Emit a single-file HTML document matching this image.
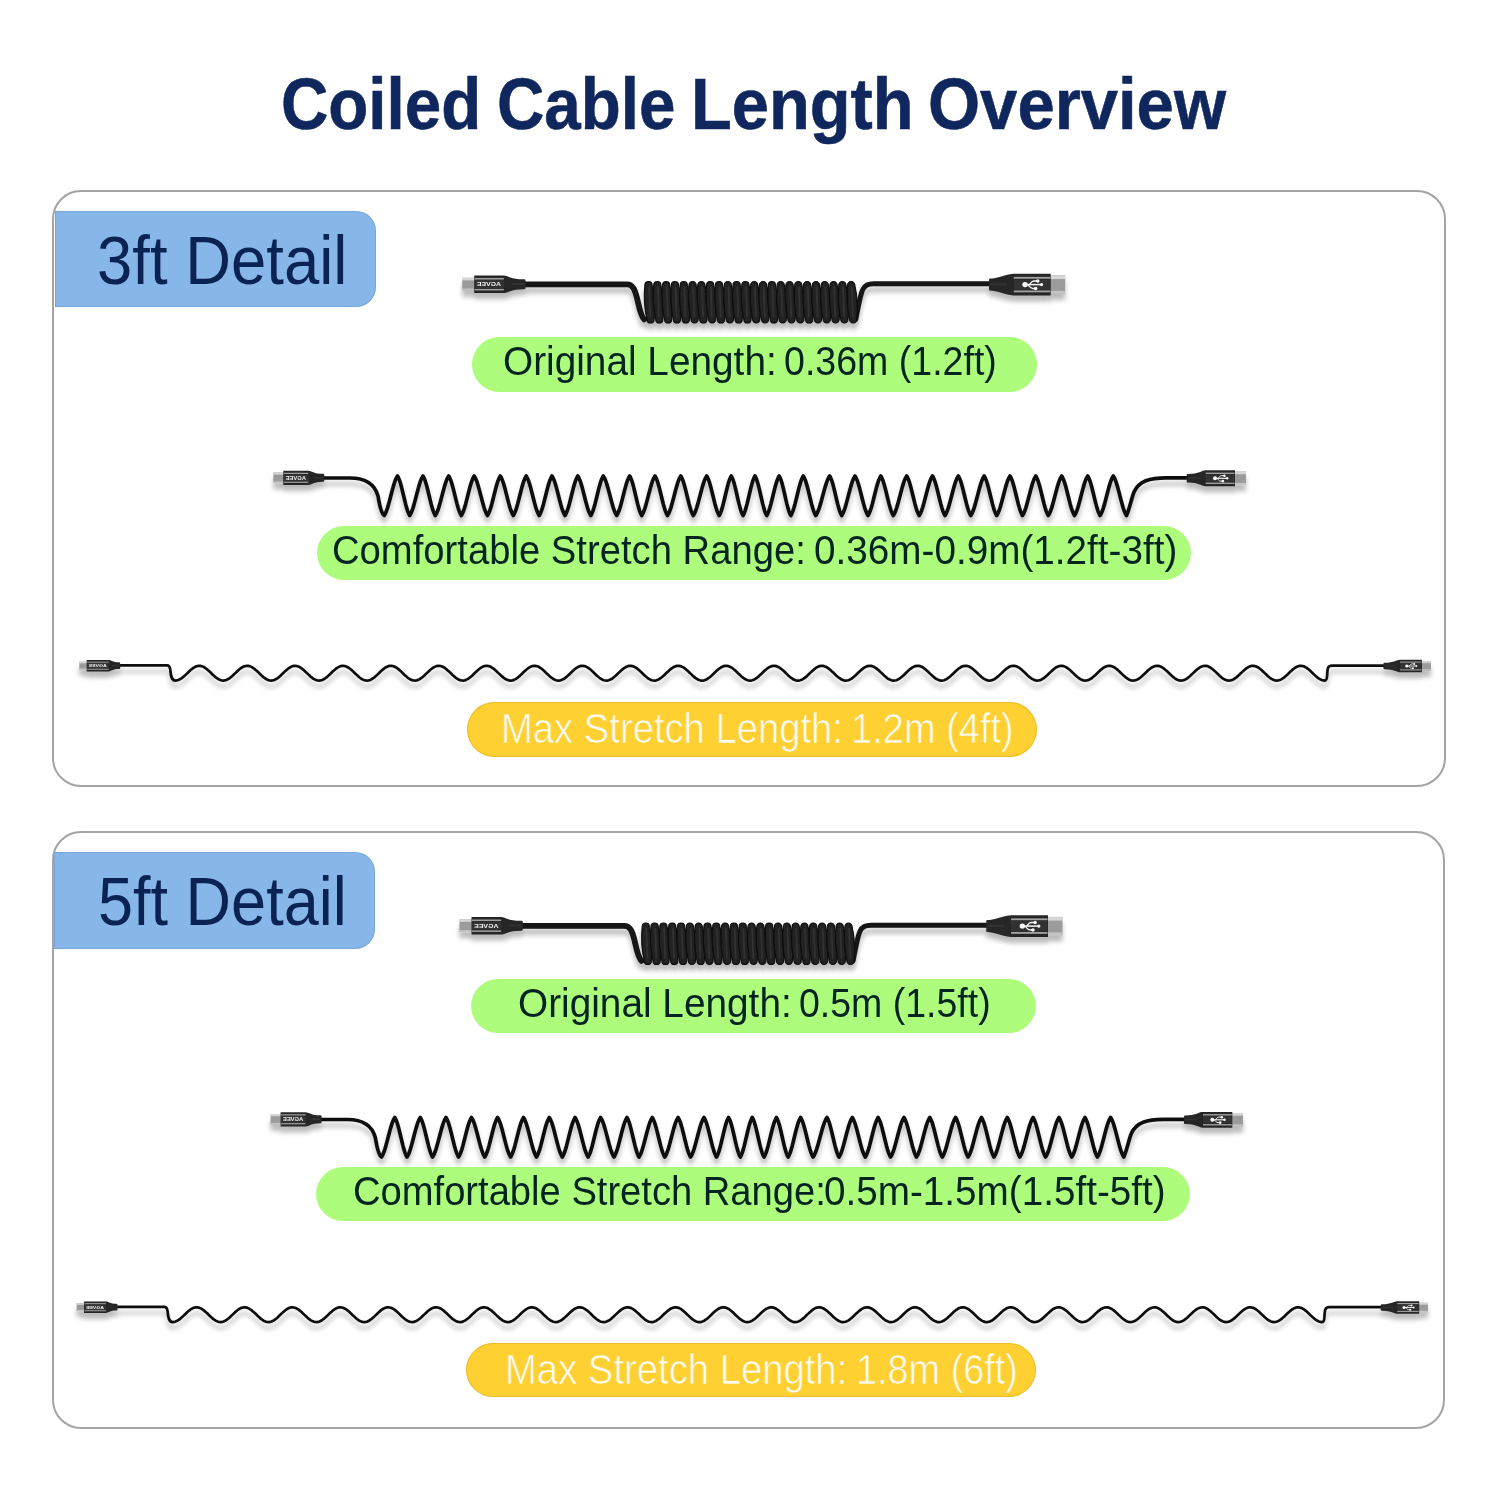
<!DOCTYPE html>
<html><head><meta charset="utf-8"><title>Coiled Cable Length Overview</title><style>
html,body{margin:0;padding:0;background:#fff;}
body{width:1500px;height:1500px;position:relative;overflow:hidden;}
.t{position:absolute;white-space:nowrap;line-height:1;font-family:"Liberation Sans",sans-serif;transform-origin:0 0;}
</style></head><body>
<div style="position:absolute;left:52px;top:189.5px;width:1393.5px;height:597.5px;box-sizing:border-box;border:2.6px solid #a4a4a4;border-radius:29px;"></div>
<div style="position:absolute;left:51.5px;top:831px;width:1393.0px;height:597.5px;box-sizing:border-box;border:2.6px solid #a4a4a4;border-radius:29px;"></div>
<div style="position:absolute;left:54.5px;top:210.8px;width:321.1px;height:96.4px;background:#87b7e8;border-radius:0 20px 20px 0;box-shadow:inset 0 0 0 1px rgba(90,130,180,0.3);"></div>
<div style="position:absolute;left:54px;top:852px;width:320.7px;height:96.5px;background:#87b7e8;border-radius:0 20px 20px 0;box-shadow:inset 0 0 0 1px rgba(90,130,180,0.3);"></div>
<div style="position:absolute;left:472px;top:337px;width:564.5px;height:54.5px;background:#adfc7c;border-radius:28px;"></div>
<div style="position:absolute;left:317px;top:526px;width:874px;height:54px;background:#adfc7c;border-radius:28px;"></div>
<div style="position:absolute;left:466.7px;top:701.7px;width:570.3px;height:55.0px;background:#fed032;border-radius:28px;box-shadow:inset 0 0 0 1px rgba(215,165,30,0.45);"></div>
<div style="position:absolute;left:471px;top:978.5px;width:564.5px;height:54.5px;background:#adfc7c;border-radius:28px;"></div>
<div style="position:absolute;left:316px;top:1167px;width:874px;height:54px;background:#adfc7c;border-radius:28px;"></div>
<div style="position:absolute;left:465.7px;top:1343px;width:570.3px;height:54.3px;background:#fed032;border-radius:28px;box-shadow:inset 0 0 0 1px rgba(215,165,30,0.45);"></div>
<svg width="1500" height="1500" viewBox="0 0 1500 1500" style="position:absolute;left:0;top:0">
<defs>
<filter id="sh" x="-5%" y="-50%" width="110%" height="250%">
<feGaussianBlur in="SourceAlpha" stdDeviation="2.4"/>
<feOffset dx="0" dy="6" result="b"/>
<feComponentTransfer><feFuncA type="linear" slope="0.27"/></feComponentTransfer>
<feMerge><feMergeNode/><feMergeNode in="SourceGraphic"/></feMerge>
</filter>
</defs>
<g id="pc1" filter="url(#sh)">
<path d="M524 284.4 H627 C633 284.4 635 290 637 298 C639 306 640.5 316 644.2 319.4" fill="none" stroke="#161616" stroke-width="5.8" stroke-linecap="round" stroke-linejoin="round"/>
<path d="M855.8 319.4 C858 308 860 296 862.5 290 C865 285 868 283.8 874 283.8 H990" fill="none" stroke="#161616" stroke-width="5" stroke-linecap="round" stroke-linejoin="round"/>
<g fill="#212121" stroke="#080808" stroke-width="1.1"><path d="M644.9 285.1 A3.6 3.6 0 0 1 652.1 285.1 Q655.9 302.25 654.1 319.4 A3.6 3.6 0 0 1 646.9 319.4 Q643.1 302.25 644.9 285.1 Z"/><path d="M653.71 285.1 A3.6 3.6 0 0 1 660.91 285.1 Q664.71 302.25 662.91 319.4 A3.6 3.6 0 0 1 655.71 319.4 Q651.91 302.25 653.71 285.1 Z"/><path d="M662.53 285.1 A3.6 3.6 0 0 1 669.73 285.1 Q673.53 302.25 671.73 319.4 A3.6 3.6 0 0 1 664.53 319.4 Q660.73 302.25 662.53 285.1 Z"/><path d="M671.34 285.1 A3.6 3.6 0 0 1 678.54 285.1 Q682.34 302.25 680.54 319.4 A3.6 3.6 0 0 1 673.34 319.4 Q669.54 302.25 671.34 285.1 Z"/><path d="M680.15 285.1 A3.6 3.6 0 0 1 687.35 285.1 Q691.15 302.25 689.35 319.4 A3.6 3.6 0 0 1 682.15 319.4 Q678.35 302.25 680.15 285.1 Z"/><path d="M688.97 285.1 A3.6 3.6 0 0 1 696.17 285.1 Q699.97 302.25 698.17 319.4 A3.6 3.6 0 0 1 690.97 319.4 Q687.17 302.25 688.97 285.1 Z"/><path d="M697.78 285.1 A3.6 3.6 0 0 1 704.98 285.1 Q708.78 302.25 706.98 319.4 A3.6 3.6 0 0 1 699.78 319.4 Q695.98 302.25 697.78 285.1 Z"/><path d="M706.59 285.1 A3.6 3.6 0 0 1 713.79 285.1 Q717.59 302.25 715.79 319.4 A3.6 3.6 0 0 1 708.59 319.4 Q704.79 302.25 706.59 285.1 Z"/><path d="M715.4 285.1 A3.6 3.6 0 0 1 722.6 285.1 Q726.4 302.25 724.6 319.4 A3.6 3.6 0 0 1 717.4 319.4 Q713.6 302.25 715.4 285.1 Z"/><path d="M724.22 285.1 A3.6 3.6 0 0 1 731.42 285.1 Q735.22 302.25 733.42 319.4 A3.6 3.6 0 0 1 726.22 319.4 Q722.42 302.25 724.22 285.1 Z"/><path d="M733.03 285.1 A3.6 3.6 0 0 1 740.23 285.1 Q744.03 302.25 742.23 319.4 A3.6 3.6 0 0 1 735.03 319.4 Q731.23 302.25 733.03 285.1 Z"/><path d="M741.84 285.1 A3.6 3.6 0 0 1 749.04 285.1 Q752.84 302.25 751.04 319.4 A3.6 3.6 0 0 1 743.84 319.4 Q740.04 302.25 741.84 285.1 Z"/><path d="M750.66 285.1 A3.6 3.6 0 0 1 757.86 285.1 Q761.66 302.25 759.86 319.4 A3.6 3.6 0 0 1 752.66 319.4 Q748.86 302.25 750.66 285.1 Z"/><path d="M759.47 285.1 A3.6 3.6 0 0 1 766.67 285.1 Q770.47 302.25 768.67 319.4 A3.6 3.6 0 0 1 761.47 319.4 Q757.67 302.25 759.47 285.1 Z"/><path d="M768.28 285.1 A3.6 3.6 0 0 1 775.48 285.1 Q779.28 302.25 777.48 319.4 A3.6 3.6 0 0 1 770.28 319.4 Q766.48 302.25 768.28 285.1 Z"/><path d="M777.1 285.1 A3.6 3.6 0 0 1 784.3 285.1 Q788.1 302.25 786.3 319.4 A3.6 3.6 0 0 1 779.1 319.4 Q775.3 302.25 777.1 285.1 Z"/><path d="M785.91 285.1 A3.6 3.6 0 0 1 793.11 285.1 Q796.91 302.25 795.11 319.4 A3.6 3.6 0 0 1 787.91 319.4 Q784.11 302.25 785.91 285.1 Z"/><path d="M794.72 285.1 A3.6 3.6 0 0 1 801.92 285.1 Q805.72 302.25 803.92 319.4 A3.6 3.6 0 0 1 796.72 319.4 Q792.92 302.25 794.72 285.1 Z"/><path d="M803.53 285.1 A3.6 3.6 0 0 1 810.73 285.1 Q814.53 302.25 812.73 319.4 A3.6 3.6 0 0 1 805.53 319.4 Q801.73 302.25 803.53 285.1 Z"/><path d="M812.35 285.1 A3.6 3.6 0 0 1 819.55 285.1 Q823.35 302.25 821.55 319.4 A3.6 3.6 0 0 1 814.35 319.4 Q810.55 302.25 812.35 285.1 Z"/><path d="M821.16 285.1 A3.6 3.6 0 0 1 828.36 285.1 Q832.16 302.25 830.36 319.4 A3.6 3.6 0 0 1 823.16 319.4 Q819.36 302.25 821.16 285.1 Z"/><path d="M829.97 285.1 A3.6 3.6 0 0 1 837.17 285.1 Q840.97 302.25 839.17 319.4 A3.6 3.6 0 0 1 831.97 319.4 Q828.17 302.25 829.97 285.1 Z"/><path d="M838.79 285.1 A3.6 3.6 0 0 1 845.99 285.1 Q849.79 302.25 847.99 319.4 A3.6 3.6 0 0 1 840.79 319.4 Q836.99 302.25 838.79 285.1 Z"/><path d="M847.6 285.1 A3.6 3.6 0 0 1 854.8 285.1 Q858.6 302.25 856.8 319.4 A3.6 3.6 0 0 1 849.6 319.4 Q845.8 302.25 847.6 285.1 Z"/></g>
<path d="M649.1 287.1 L650.2 316.4 M657.91 287.1 L659.01 316.4 M666.73 287.1 L667.83 316.4 M675.54 287.1 L676.64 316.4 M684.35 287.1 L685.45 316.4 M693.17 287.1 L694.27 316.4 M701.98 287.1 L703.08 316.4 M710.79 287.1 L711.89 316.4 M719.6 287.1 L720.7 316.4 M728.42 287.1 L729.52 316.4 M737.23 287.1 L738.33 316.4 M746.04 287.1 L747.14 316.4 M754.86 287.1 L755.96 316.4 M763.67 287.1 L764.77 316.4 M772.48 287.1 L773.58 316.4 M781.3 287.1 L782.4 316.4 M790.11 287.1 L791.21 316.4 M798.92 287.1 L800.02 316.4 M807.73 287.1 L808.83 316.4 M816.55 287.1 L817.65 316.4 M825.36 287.1 L826.46 316.4 M834.17 287.1 L835.27 316.4 M842.99 287.1 L844.09 316.4 M851.8 287.1 L852.9 316.4 " stroke="#444" stroke-width="1.8" opacity="0.5" fill="none" stroke-linecap="round"/>
<rect x="462.2" y="277.8" width="12.8" height="12.8" fill="#9b9b9b"/>
<rect x="462.2" y="277.8" width="12.8" height="2.56" fill="#d6d6d6"/>
<rect x="462.2" y="288.55" width="12.8" height="2.05" fill="#c4c4c4"/>
<path d="M474.2 275.4 L503.8 275.4 C507.71 275.4 510.31 279.25 524.3 279.25 Q525.5 279.25 525.5 280.45 L525.5 287.95 Q525.5 289.15 524.3 289.15 C510.31 289.15 507.71 293 503.8 293 L474.2 293 Z" fill="#262626"/>
<rect x="474.7" y="280.15" width="29.1" height="8.1" fill="#333333"/>
<rect x="474.7" y="278" width="29.1" height="1.5" fill="#a2a2a2"/>
<rect x="474.7" y="288.91" width="29.1" height="1.5" fill="#a2a2a2"/>
<rect x="512" y="283.01" width="12" height="1.98" fill="#3a3a3a" opacity="0.6"/>
<text x="0" y="2.15" transform="translate(489,284.2) scale(-1,1)" font-family="Liberation Sans" font-weight="bold" font-size="5.98" fill="#eeeeee" text-anchor="middle" textLength="24.27" lengthAdjust="spacingAndGlyphs">AGVEE</text>
<rect x="1049.9" y="275.4" width="15.3" height="18.4" fill="#9b9b9b"/>
<rect x="1049.9" y="275.4" width="15.3" height="3.68" fill="#d6d6d6"/>
<rect x="1049.9" y="290.86" width="15.3" height="2.94" fill="#c4c4c4"/>
<path d="M1050.7 273.65 L1013.8 273.65 C1008.84 273.65 995.2 278.6 990.2 278.6 Q989 278.6 989 279.8 L989 289.4 Q989 290.6 990.2 290.6 C995.2 290.6 1008.84 295.55 1013.8 295.55 L1050.7 295.55 Z" fill="#262626"/>
<rect x="1013.8" y="279.56" width="36.4" height="10.07" fill="#333333"/>
<rect x="1013.8" y="276.88" width="36.4" height="1.86" fill="#a2a2a2"/>
<rect x="1013.8" y="290.46" width="36.4" height="1.86" fill="#a2a2a2"/>
<rect x="990.5" y="283.16" width="16.5" height="2.4" fill="#3a3a3a" opacity="0.6"/>
<g transform="translate(1032.25,284.6) scale(1)" fill="#f6f6f6" stroke="#f6f6f6"><circle cx="-7.2" cy="0" r="2.7" stroke="none"/><path d="M-6 0 H9" stroke-width="1.5" fill="none"/><circle cx="9.3" cy="0" r="1.6" stroke="none"/><path d="M-3 0 C-1.5 -1.5 -0.5 -3.6 1.5 -3.6 H5" stroke-width="1.3" fill="none"/><circle cx="5.6" cy="-3.6" r="1.7" stroke="none"/><path d="M-4.5 0 C-3 1.5 -1.8 3.9 0.5 3.9 H2.5" stroke-width="1.3" fill="none"/><circle cx="3.4" cy="3.9" r="1.8" stroke="none"/></g>
<path d="M322 478 H350 C366 478 375 485 378 496 C379.5 504 380.5 513 384.2 515.5 L385.31 513.65 L386.42 511.08 L387.52 507.87 L388.63 504.14 L389.74 500.04 L390.85 495.75 L391.96 491.46 L393.07 487.36 L394.18 483.63 L395.28 480.42 L396.39 477.85 L397.5 476 L398.52 477.85 L399.53 480.42 L400.55 483.63 L401.57 487.36 L402.58 491.46 L403.6 495.75 L404.62 500.04 L405.63 504.14 L406.65 507.87 L407.67 511.08 L408.68 513.65 L409.7 515.5 L410.81 513.65 L411.92 511.08 L413.02 507.87 L414.13 504.14 L415.24 500.04 L416.35 495.75 L417.46 491.46 L418.57 487.36 L419.68 483.63 L420.78 480.42 L421.89 477.85 L423 476 L424.02 477.85 L425.05 480.42 L426.07 483.63 L427.1 487.36 L428.12 491.46 L429.15 495.75 L430.18 500.04 L431.2 504.14 L432.23 507.87 L433.25 511.08 L434.28 513.65 L435.3 515.5 L436.42 513.65 L437.53 511.08 L438.65 507.87 L439.77 504.14 L440.88 500.04 L442 495.75 L443.12 491.46 L444.23 487.36 L445.35 483.63 L446.47 480.42 L447.58 477.85 L448.7 476 L449.75 477.85 L450.8 480.42 L451.85 483.63 L452.9 487.36 L453.95 491.46 L455 495.75 L456.05 500.04 L457.1 504.14 L458.15 507.87 L459.2 511.08 L460.25 513.65 L461.3 515.5 L462.38 513.65 L463.45 511.08 L464.52 507.87 L465.6 504.14 L466.68 500.04 L467.75 495.75 L468.82 491.46 L469.9 487.36 L470.98 483.63 L472.05 480.42 L473.12 477.85 L474.2 476 L475.31 477.85 L476.42 480.42 L477.52 483.63 L478.63 487.36 L479.74 491.46 L480.85 495.75 L481.96 500.04 L483.07 504.14 L484.18 507.87 L485.28 511.08 L486.39 513.65 L487.5 515.5 L488.57 513.65 L489.63 511.08 L490.7 507.87 L491.77 504.14 L492.83 500.04 L493.9 495.75 L494.97 491.46 L496.03 487.36 L497.1 483.63 L498.17 480.42 L499.23 477.85 L500.3 476 L501.38 477.85 L502.47 480.42 L503.55 483.63 L504.63 487.36 L505.72 491.46 L506.8 495.75 L507.88 500.04 L508.97 504.14 L510.05 507.87 L511.13 511.08 L512.22 513.65 L513.3 515.5 L514.38 513.65 L515.45 511.08 L516.52 507.87 L517.6 504.14 L518.67 500.04 L519.75 495.75 L520.83 491.46 L521.9 487.36 L522.98 483.63 L524.05 480.42 L525.12 477.85 L526.2 476 L527.28 477.85 L528.37 480.42 L529.45 483.63 L530.53 487.36 L531.62 491.46 L532.7 495.75 L533.78 500.04 L534.87 504.14 L535.95 507.87 L537.03 511.08 L538.12 513.65 L539.2 515.5 L540.27 513.65 L541.33 511.08 L542.4 507.87 L543.47 504.14 L544.53 500.04 L545.6 495.75 L546.67 491.46 L547.73 487.36 L548.8 483.63 L549.87 480.42 L550.93 477.85 L552 476 L553.08 477.85 L554.17 480.42 L555.25 483.63 L556.33 487.36 L557.42 491.46 L558.5 495.75 L559.58 500.04 L560.67 504.14 L561.75 507.87 L562.83 511.08 L563.92 513.65 L565 515.5 L566.07 513.65 L567.13 511.08 L568.2 507.87 L569.27 504.14 L570.33 500.04 L571.4 495.75 L572.47 491.46 L573.53 487.36 L574.6 483.63 L575.67 480.42 L576.73 477.85 L577.8 476 L578.88 477.85 L579.97 480.42 L581.05 483.63 L582.13 487.36 L583.22 491.46 L584.3 495.75 L585.38 500.04 L586.47 504.14 L587.55 507.87 L588.63 511.08 L589.72 513.65 L590.8 515.5 L591.84 513.65 L592.88 511.08 L593.92 507.87 L594.97 504.14 L596.01 500.04 L597.05 495.75 L598.09 491.46 L599.13 487.36 L600.17 483.63 L601.22 480.42 L602.26 477.85 L603.3 476 L604.42 477.85 L605.53 480.42 L606.65 483.63 L607.77 487.36 L608.88 491.46 L610 495.75 L611.12 500.04 L612.23 504.14 L613.35 507.87 L614.47 511.08 L615.58 513.65 L616.7 515.5 L617.78 513.65 L618.87 511.08 L619.95 507.87 L621.03 504.14 L622.12 500.04 L623.2 495.75 L624.28 491.46 L625.37 487.36 L626.45 483.63 L627.53 480.42 L628.62 477.85 L629.7 476 L630.7 477.85 L631.7 480.42 L632.7 483.63 L633.7 487.36 L634.7 491.46 L635.7 495.75 L636.7 500.04 L637.7 504.14 L638.7 507.87 L639.7 511.08 L640.7 513.65 L641.7 515.5 L642.81 513.65 L643.92 511.08 L645.03 507.87 L646.13 504.14 L647.24 500.04 L648.35 495.75 L649.46 491.46 L650.57 487.36 L651.67 483.63 L652.78 480.42 L653.89 477.85 L655 476 L656.04 477.85 L657.08 480.42 L658.12 483.63 L659.17 487.36 L660.21 491.46 L661.25 495.75 L662.29 500.04 L663.33 504.14 L664.38 507.87 L665.42 511.08 L666.46 513.65 L667.5 515.5 L668.61 513.65 L669.72 511.08 L670.83 507.87 L671.93 504.14 L673.04 500.04 L674.15 495.75 L675.26 491.46 L676.37 487.36 L677.47 483.63 L678.58 480.42 L679.69 477.85 L680.8 476 L681.84 477.85 L682.88 480.42 L683.92 483.63 L684.97 487.36 L686.01 491.46 L687.05 495.75 L688.09 500.04 L689.13 504.14 L690.17 507.87 L691.22 511.08 L692.26 513.65 L693.3 515.5 L694.42 513.65 L695.53 511.08 L696.65 507.87 L697.77 504.14 L698.88 500.04 L700 495.75 L701.12 491.46 L702.23 487.36 L703.35 483.63 L704.47 480.42 L705.58 477.85 L706.7 476 L707.74 477.85 L708.78 480.42 L709.83 483.63 L710.87 487.36 L711.91 491.46 L712.95 495.75 L713.99 500.04 L715.03 504.14 L716.08 507.87 L717.12 511.08 L718.16 513.65 L719.2 515.5 L720.21 513.65 L721.22 511.08 L722.23 507.87 L723.23 504.14 L724.24 500.04 L725.25 495.75 L726.26 491.46 L727.27 487.36 L728.27 483.63 L729.28 480.42 L730.29 477.85 L731.3 476 L732.27 477.85 L733.25 480.42 L734.22 483.63 L735.2 487.36 L736.17 491.46 L737.15 495.75 L738.12 500.04 L739.1 504.14 L740.08 507.87 L741.05 511.08 L742.02 513.65 L743 515.5 L744 513.65 L745 511.08 L746 507.87 L747 504.14 L748 500.04 L749 495.75 L750 491.46 L751 487.36 L752 483.63 L753 480.42 L754 477.85 L755 476 L755.98 477.85 L756.95 480.42 L757.92 483.63 L758.9 487.36 L759.88 491.46 L760.85 495.75 L761.83 500.04 L762.8 504.14 L763.78 507.87 L764.75 511.08 L765.73 513.65 L766.7 515.5 L767.74 513.65 L768.78 511.08 L769.83 507.87 L770.87 504.14 L771.91 500.04 L772.95 495.75 L773.99 491.46 L775.03 487.36 L776.08 483.63 L777.12 480.42 L778.16 477.85 L779.2 476 L780.17 477.85 L781.13 480.42 L782.1 483.63 L783.07 487.36 L784.03 491.46 L785 495.75 L785.97 500.04 L786.93 504.14 L787.9 507.87 L788.87 511.08 L789.83 513.65 L790.8 515.5 L791.84 513.65 L792.88 511.08 L793.92 507.87 L794.97 504.14 L796.01 500.04 L797.05 495.75 L798.09 491.46 L799.13 487.36 L800.17 483.63 L801.22 480.42 L802.26 477.85 L803.3 476 L804.34 477.85 L805.38 480.42 L806.42 483.63 L807.47 487.36 L808.51 491.46 L809.55 495.75 L810.59 500.04 L811.63 504.14 L812.67 507.87 L813.72 511.08 L814.76 513.65 L815.8 515.5 L816.96 513.65 L818.12 511.08 L819.27 507.87 L820.43 504.14 L821.59 500.04 L822.75 495.75 L823.91 491.46 L825.07 487.36 L826.23 483.63 L827.38 480.42 L828.54 477.85 L829.7 476 L830.7 477.85 L831.7 480.42 L832.7 483.63 L833.7 487.36 L834.7 491.46 L835.7 495.75 L836.7 500.04 L837.7 504.14 L838.7 507.87 L839.7 511.08 L840.7 513.65 L841.7 515.5 L842.81 513.65 L843.92 511.08 L845.03 507.87 L846.13 504.14 L847.24 500.04 L848.35 495.75 L849.46 491.46 L850.57 487.36 L851.67 483.63 L852.78 480.42 L853.89 477.85 L855 476 L856.08 477.85 L857.17 480.42 L858.25 483.63 L859.33 487.36 L860.42 491.46 L861.5 495.75 L862.58 500.04 L863.67 504.14 L864.75 507.87 L865.83 511.08 L866.92 513.65 L868 515.5 L869.07 513.65 L870.13 511.08 L871.2 507.87 L872.27 504.14 L873.33 500.04 L874.4 495.75 L875.47 491.46 L876.53 487.36 L877.6 483.63 L878.67 480.42 L879.73 477.85 L880.8 476 L881.84 477.85 L882.88 480.42 L883.92 483.63 L884.97 487.36 L886.01 491.46 L887.05 495.75 L888.09 500.04 L889.13 504.14 L890.17 507.87 L891.22 511.08 L892.26 513.65 L893.3 515.5 L894.42 513.65 L895.53 511.08 L896.65 507.87 L897.77 504.14 L898.88 500.04 L900 495.75 L901.12 491.46 L902.23 487.36 L903.35 483.63 L904.47 480.42 L905.58 477.85 L906.7 476 L907.74 477.85 L908.78 480.42 L909.83 483.63 L910.87 487.36 L911.91 491.46 L912.95 495.75 L913.99 500.04 L915.03 504.14 L916.08 507.87 L917.12 511.08 L918.16 513.65 L919.2 515.5 L920.31 513.65 L921.42 511.08 L922.53 507.87 L923.63 504.14 L924.74 500.04 L925.85 495.75 L926.96 491.46 L928.07 487.36 L929.17 483.63 L930.28 480.42 L931.39 477.85 L932.5 476 L933.54 477.85 L934.58 480.42 L935.62 483.63 L936.67 487.36 L937.71 491.46 L938.75 495.75 L939.79 500.04 L940.83 504.14 L941.88 507.87 L942.92 511.08 L943.96 513.65 L945 515.5 L946.11 513.65 L947.22 511.08 L948.33 507.87 L949.43 504.14 L950.54 500.04 L951.65 495.75 L952.76 491.46 L953.87 487.36 L954.97 483.63 L956.08 480.42 L957.19 477.85 L958.3 476 L959.34 477.85 L960.38 480.42 L961.42 483.63 L962.47 487.36 L963.51 491.46 L964.55 495.75 L965.59 500.04 L966.63 504.14 L967.67 507.87 L968.72 511.08 L969.76 513.65 L970.8 515.5 L971.92 513.65 L973.03 511.08 L974.15 507.87 L975.27 504.14 L976.38 500.04 L977.5 495.75 L978.62 491.46 L979.73 487.36 L980.85 483.63 L981.97 480.42 L983.08 477.85 L984.2 476 L985.24 477.85 L986.28 480.42 L987.33 483.63 L988.37 487.36 L989.41 491.46 L990.45 495.75 L991.49 500.04 L992.53 504.14 L993.58 507.87 L994.62 511.08 L995.66 513.65 L996.7 515.5 L997.81 513.65 L998.92 511.08 L1000.03 507.87 L1001.13 504.14 L1002.24 500.04 L1003.35 495.75 L1004.46 491.46 L1005.57 487.36 L1006.67 483.63 L1007.78 480.42 L1008.89 477.85 L1010 476 L1011.04 477.85 L1012.08 480.42 L1013.12 483.63 L1014.17 487.36 L1015.21 491.46 L1016.25 495.75 L1017.29 500.04 L1018.33 504.14 L1019.38 507.87 L1020.42 511.08 L1021.46 513.65 L1022.5 515.5 L1023.61 513.65 L1024.72 511.08 L1025.83 507.87 L1026.93 504.14 L1028.04 500.04 L1029.15 495.75 L1030.26 491.46 L1031.37 487.36 L1032.47 483.63 L1033.58 480.42 L1034.69 477.85 L1035.8 476 L1036.84 477.85 L1037.88 480.42 L1038.92 483.63 L1039.97 487.36 L1041.01 491.46 L1042.05 495.75 L1043.09 500.04 L1044.13 504.14 L1045.17 507.87 L1046.22 511.08 L1047.26 513.65 L1048.3 515.5 L1049.42 513.65 L1050.53 511.08 L1051.65 507.87 L1052.77 504.14 L1053.88 500.04 L1055 495.75 L1056.12 491.46 L1057.23 487.36 L1058.35 483.63 L1059.47 480.42 L1060.58 477.85 L1061.7 476 L1062.77 477.85 L1063.83 480.42 L1064.9 483.63 L1065.97 487.36 L1067.03 491.46 L1068.1 495.75 L1069.17 500.04 L1070.23 504.14 L1071.3 507.87 L1072.37 511.08 L1073.43 513.65 L1074.5 515.5 L1075.6 513.65 L1076.7 511.08 L1077.8 507.87 L1078.9 504.14 L1080 500.04 L1081.1 495.75 L1082.2 491.46 L1083.3 487.36 L1084.4 483.63 L1085.5 480.42 L1086.6 477.85 L1087.7 476 L1088.73 477.85 L1089.77 480.42 L1090.8 483.63 L1091.83 487.36 L1092.87 491.46 L1093.9 495.75 L1094.93 500.04 L1095.97 504.14 L1097 507.87 L1098.03 511.08 L1099.07 513.65 L1100.1 515.5 L1101.2 513.65 L1102.3 511.08 L1103.4 507.87 L1104.5 504.14 L1105.6 500.04 L1106.7 495.75 L1107.8 491.46 L1108.9 487.36 L1110 483.63 L1111.1 480.42 L1112.2 477.85 L1113.3 476 L1114.4 477.85 L1115.5 480.42 L1116.6 483.63 L1117.7 487.36 L1118.8 491.46 L1119.9 495.75 L1121 500.04 L1122.1 504.14 L1123.2 507.87 L1124.3 511.08 L1125.4 513.65 L1126.5 515.5 C1129 511 1131 500 1134 492 C1139 481 1150 477.8 1166 477.8 H1190" fill="none" stroke="#111111" stroke-width="3.7" stroke-linecap="round" stroke-linejoin="round"/>
<rect x="273.3" y="472.5" width="10.8" height="10.6" fill="#9b9b9b"/>
<rect x="273.3" y="472.5" width="10.8" height="2.12" fill="#d6d6d6"/>
<rect x="273.3" y="481.4" width="10.8" height="1.7" fill="#c4c4c4"/>
<path d="M283.3 470.65 L308.3 470.65 C311.5 470.65 313.9 473.8 323.1 473.8 Q324.3 473.8 324.3 475 L324.3 480.6 Q324.3 481.8 323.1 481.8 C313.9 481.8 311.5 484.95 308.3 484.95 L283.3 484.95 Z" fill="#262626"/>
<rect x="283.8" y="474.51" width="24.5" height="6.58" fill="#333333"/>
<rect x="283.8" y="472.76" width="24.5" height="1.22" fill="#a2a2a2"/>
<rect x="283.8" y="481.63" width="24.5" height="1.22" fill="#a2a2a2"/>
<rect x="313.8" y="476.84" width="9" height="1.6" fill="#3a3a3a" opacity="0.6"/>
<text x="0" y="1.75" transform="translate(295.8,477.8) scale(-1,1)" font-family="Liberation Sans" font-weight="bold" font-size="4.86" fill="#eeeeee" text-anchor="middle" textLength="20.5" lengthAdjust="spacingAndGlyphs">AGVEE</text>
<rect x="1234.2" y="471.5" width="11.8" height="13.6" fill="#9b9b9b"/>
<rect x="1234.2" y="471.5" width="11.8" height="2.72" fill="#d6d6d6"/>
<rect x="1234.2" y="482.92" width="11.8" height="2.18" fill="#c4c4c4"/>
<path d="M1235 470.25 L1205.7 470.25 C1201.9 470.25 1199.05 474 1187.9 474 Q1186.7 474 1186.7 475.2 L1186.7 481.4 Q1186.7 482.6 1187.9 482.6 C1199.05 482.6 1201.9 486.35 1205.7 486.35 L1235 486.35 Z" fill="#262626"/>
<rect x="1205.7" y="474.6" width="28.8" height="7.41" fill="#333333"/>
<rect x="1205.7" y="472.62" width="28.8" height="1.37" fill="#a2a2a2"/>
<rect x="1205.7" y="482.61" width="28.8" height="1.37" fill="#a2a2a2"/>
<rect x="1188.2" y="477.27" width="12" height="1.72" fill="#3a3a3a" opacity="0.6"/>
<g transform="translate(1220.35,478.3) scale(0.74)" fill="#f6f6f6" stroke="#f6f6f6"><circle cx="-7.2" cy="0" r="2.7" stroke="none"/><path d="M-6 0 H9" stroke-width="1.5" fill="none"/><circle cx="9.3" cy="0" r="1.6" stroke="none"/><path d="M-3 0 C-1.5 -1.5 -0.5 -3.6 1.5 -3.6 H5" stroke-width="1.3" fill="none"/><circle cx="5.6" cy="-3.6" r="1.7" stroke="none"/><path d="M-4.5 0 C-3 1.5 -1.8 3.9 0.5 3.9 H2.5" stroke-width="1.3" fill="none"/><circle cx="3.4" cy="3.9" r="1.8" stroke="none"/></g>
<path d="M118 665.4 H167 C169.5 665.4 170 667 170.3 670 C170.8 676 171.5 680.6 175.35 680.6 L175.35 680.6 L176.85 680.46 L178.35 680.04 L179.85 679.35 L181.34 678.43 L182.84 677.3 L184.34 676.02 L185.84 674.63 L187.34 673.18 L188.84 671.74 L190.34 670.35 L191.83 669.07 L193.33 667.95 L194.83 667.03 L196.33 666.35 L197.83 665.94 L199.33 665.8 L200.82 665.95 L202.32 666.38 L203.82 667.07 L205.32 667.99 L206.82 669.12 L208.32 670.41 L209.82 671.8 L211.31 673.25 L212.81 674.69 L214.31 676.08 L215.81 677.35 L217.31 678.47 L218.81 679.38 L220.31 680.06 L221.8 680.47 L223.3 680.6 L224.8 680.45 L226.3 680.01 L227.8 679.32 L229.3 678.38 L230.8 677.25 L232.29 675.97 L233.79 674.57 L235.29 673.12 L236.79 671.68 L238.29 670.29 L239.79 669.02 L241.28 667.91 L242.78 667 L244.28 666.33 L245.78 665.93 L247.28 665.8 L248.78 665.96 L250.28 666.4 L251.77 667.1 L253.27 668.04 L254.77 669.17 L256.27 670.46 L257.77 671.86 L259.27 673.31 L260.77 674.75 L262.26 676.13 L263.76 677.4 L265.26 678.51 L266.76 679.42 L268.26 680.08 L269.76 680.48 L271.25 680.6 L272.75 680.43 L274.25 679.99 L275.75 679.28 L277.25 678.34 L278.75 677.2 L280.25 675.91 L281.74 674.51 L283.24 673.06 L284.74 671.62 L286.24 670.24 L287.74 668.97 L289.24 667.87 L290.74 666.97 L292.23 666.31 L293.73 665.91 L295.23 665.8 L296.73 665.97 L298.23 666.42 L299.73 667.14 L301.23 668.08 L302.72 669.22 L304.22 670.52 L305.72 671.92 L307.22 673.37 L308.72 674.81 L310.22 676.19 L311.71 677.45 L313.21 678.55 L314.71 679.45 L316.21 680.1 L317.71 680.49 L319.21 680.6 L320.71 680.42 L322.2 679.96 L323.7 679.25 L325.2 678.3 L326.7 677.15 L328.2 675.85 L329.7 674.45 L331.2 673 L332.69 671.56 L334.19 670.18 L335.69 668.92 L337.19 667.82 L338.69 666.93 L340.19 666.29 L341.69 665.9 L343.18 665.8 L344.68 665.99 L346.18 666.45 L347.68 667.17 L349.18 668.13 L350.68 669.27 L352.17 670.58 L353.67 671.98 L355.17 673.43 L356.67 674.87 L358.17 676.24 L359.67 677.5 L361.17 678.6 L362.66 679.48 L364.16 680.12 L365.66 680.5 L367.16 680.6 L368.66 680.41 L370.16 679.94 L371.66 679.21 L373.15 678.25 L374.65 677.1 L376.15 675.8 L377.65 674.39 L379.15 672.94 L380.65 671.5 L382.14 670.13 L383.64 668.87 L385.14 667.78 L386.64 666.9 L388.14 666.26 L389.64 665.89 L391.14 665.81 L392.63 666 L394.13 666.47 L395.63 667.21 L397.13 668.17 L398.63 669.33 L400.13 670.63 L401.63 672.04 L403.12 673.49 L404.62 674.93 L406.12 676.3 L407.62 677.55 L409.12 678.64 L410.62 679.51 L412.12 680.15 L413.61 680.51 L415.11 680.59 L416.61 680.39 L418.11 679.91 L419.61 679.18 L421.11 678.21 L422.6 677.05 L424.1 675.74 L425.6 674.33 L427.1 672.88 L428.6 671.44 L430.1 670.07 L431.6 668.82 L433.09 667.74 L434.59 666.87 L436.09 666.24 L437.59 665.88 L439.09 665.81 L440.59 666.02 L442.09 666.5 L443.58 667.24 L445.08 668.21 L446.58 669.38 L448.08 670.69 L449.58 672.1 L451.08 673.55 L452.58 674.99 L454.07 676.35 L455.57 677.6 L457.07 678.68 L458.57 679.54 L460.07 680.17 L461.57 680.52 L463.06 680.59 L464.56 680.38 L466.06 679.89 L467.56 679.14 L469.06 678.16 L470.56 677 L472.06 675.68 L473.55 674.27 L475.05 672.82 L476.55 671.38 L478.05 670.02 L479.55 668.77 L481.05 667.7 L482.55 666.84 L484.04 666.22 L485.54 665.88 L487.04 665.81 L488.54 666.03 L490.04 666.53 L491.54 667.28 L493.03 668.26 L494.53 669.43 L496.03 670.75 L497.53 672.16 L499.03 673.61 L500.53 675.04 L502.03 676.41 L503.52 677.65 L505.02 678.72 L506.52 679.58 L508.02 680.19 L509.52 680.53 L511.02 680.59 L512.52 680.36 L514.01 679.86 L515.51 679.1 L517.01 678.12 L518.51 676.94 L520.01 675.62 L521.51 674.21 L523.01 672.76 L524.5 671.33 L526 669.96 L527.5 668.73 L529 667.66 L530.5 666.81 L532 666.2 L533.49 665.87 L534.99 665.81 L536.49 666.05 L537.99 666.55 L539.49 667.31 L540.99 668.3 L542.49 669.48 L543.98 670.8 L545.48 672.22 L546.98 673.67 L548.48 675.1 L549.98 676.46 L551.48 677.7 L552.98 678.76 L554.47 679.61 L555.97 680.21 L557.47 680.54 L558.97 680.58 L560.47 680.35 L561.97 679.83 L563.47 679.07 L564.96 678.07 L566.46 676.89 L567.96 675.57 L569.46 674.15 L570.96 672.7 L572.46 671.27 L573.95 669.91 L575.45 668.68 L576.95 667.62 L578.45 666.78 L579.95 666.18 L581.45 665.86 L582.95 665.82 L584.44 666.06 L585.94 666.58 L587.44 667.35 L588.94 668.35 L590.44 669.54 L591.94 670.86 L593.44 672.28 L594.93 673.73 L596.43 675.16 L597.93 676.52 L599.43 677.75 L600.93 678.8 L602.43 679.64 L603.92 680.23 L605.42 680.54 L606.92 680.58 L608.42 680.33 L609.92 679.81 L611.42 679.03 L612.92 678.03 L614.41 676.84 L615.91 675.51 L617.41 674.09 L618.91 672.64 L620.41 671.21 L621.91 669.86 L623.41 668.63 L624.9 667.58 L626.4 666.75 L627.9 666.16 L629.4 665.85 L630.9 665.82 L632.4 666.08 L633.9 666.61 L635.39 667.39 L636.89 668.4 L638.39 669.59 L639.89 670.92 L641.39 672.34 L642.89 673.79 L644.38 675.22 L645.88 676.57 L647.38 677.79 L648.88 678.84 L650.38 679.67 L651.88 680.24 L653.38 680.55 L654.87 680.58 L656.37 680.31 L657.87 679.78 L659.37 678.99 L660.87 677.98 L662.37 676.79 L663.87 675.45 L665.36 674.03 L666.86 672.58 L668.36 671.15 L669.86 669.8 L671.36 668.58 L672.86 667.54 L674.36 666.72 L675.85 666.15 L677.35 665.85 L678.85 665.83 L680.35 666.09 L681.85 666.63 L683.35 667.43 L684.84 668.44 L686.34 669.64 L687.84 670.98 L689.34 672.4 L690.84 673.85 L692.34 675.28 L693.84 676.63 L695.33 677.84 L696.83 678.88 L698.33 679.7 L699.83 680.26 L701.33 680.56 L702.83 680.57 L704.33 680.3 L705.82 679.75 L707.32 678.95 L708.82 677.93 L710.32 676.73 L711.82 675.39 L713.32 673.97 L714.81 672.52 L716.31 671.09 L717.81 669.75 L719.31 668.54 L720.81 667.5 L722.31 666.69 L723.81 666.13 L725.3 665.84 L726.8 665.83 L728.3 666.11 L729.8 666.66 L731.3 667.46 L732.8 668.49 L734.3 669.69 L735.79 671.03 L737.29 672.46 L738.79 673.91 L740.29 675.34 L741.79 676.68 L743.29 677.89 L744.79 678.92 L746.28 679.72 L747.78 680.28 L749.28 680.56 L750.78 680.56 L752.28 680.28 L753.78 679.72 L755.27 678.92 L756.77 677.89 L758.27 676.68 L759.77 675.34 L761.27 673.91 L762.77 672.46 L764.27 671.03 L765.76 669.69 L767.26 668.49 L768.76 667.46 L770.26 666.66 L771.76 666.11 L773.26 665.83 L774.76 665.84 L776.25 666.13 L777.75 666.69 L779.25 667.5 L780.75 668.54 L782.25 669.75 L783.75 671.09 L785.25 672.52 L786.74 673.97 L788.24 675.39 L789.74 676.73 L791.24 677.93 L792.74 678.95 L794.24 679.75 L795.73 680.3 L797.23 680.57 L798.73 680.56 L800.23 680.26 L801.73 679.7 L803.23 678.88 L804.73 677.84 L806.22 676.63 L807.72 675.28 L809.22 673.85 L810.72 672.4 L812.22 670.98 L813.72 669.64 L815.22 668.44 L816.71 667.43 L818.21 666.63 L819.71 666.09 L821.21 665.83 L822.71 665.85 L824.21 666.15 L825.7 666.72 L827.2 667.54 L828.7 668.58 L830.2 669.8 L831.7 671.15 L833.2 672.58 L834.7 674.03 L836.19 675.45 L837.69 676.79 L839.19 677.98 L840.69 678.99 L842.19 679.78 L843.69 680.31 L845.19 680.58 L846.68 680.55 L848.18 680.24 L849.68 679.67 L851.18 678.84 L852.68 677.79 L854.18 676.57 L855.68 675.22 L857.17 673.79 L858.67 672.34 L860.17 670.92 L861.67 669.59 L863.17 668.4 L864.67 667.39 L866.16 666.61 L867.66 666.08 L869.16 665.82 L870.66 665.85 L872.16 666.16 L873.66 666.75 L875.16 667.58 L876.65 668.63 L878.15 669.86 L879.65 671.21 L881.15 672.64 L882.65 674.09 L884.15 675.51 L885.65 676.84 L887.14 678.03 L888.64 679.03 L890.14 679.81 L891.64 680.33 L893.14 680.58 L894.64 680.54 L896.14 680.23 L897.63 679.64 L899.13 678.8 L900.63 677.75 L902.13 676.52 L903.63 675.16 L905.13 673.73 L906.62 672.28 L908.12 670.86 L909.62 669.54 L911.12 668.35 L912.62 667.35 L914.12 666.58 L915.62 666.06 L917.11 665.82 L918.61 665.86 L920.11 666.18 L921.61 666.78 L923.11 667.62 L924.61 668.68 L926.11 669.91 L927.6 671.27 L929.1 672.7 L930.6 674.15 L932.1 675.57 L933.6 676.89 L935.1 678.07 L936.59 679.07 L938.09 679.83 L939.59 680.35 L941.09 680.58 L942.59 680.54 L944.09 680.21 L945.59 679.61 L947.08 678.76 L948.58 677.7 L950.08 676.46 L951.58 675.1 L953.08 673.67 L954.58 672.22 L956.08 670.8 L957.57 669.48 L959.07 668.3 L960.57 667.31 L962.07 666.55 L963.57 666.05 L965.07 665.81 L966.57 665.87 L968.06 666.2 L969.56 666.81 L971.06 667.66 L972.56 668.73 L974.06 669.96 L975.56 671.33 L977.05 672.76 L978.55 674.21 L980.05 675.62 L981.55 676.94 L983.05 678.12 L984.55 679.1 L986.05 679.86 L987.54 680.36 L989.04 680.59 L990.54 680.53 L992.04 680.19 L993.54 679.58 L995.04 678.72 L996.54 677.65 L998.03 676.41 L999.53 675.04 L1001.03 673.61 L1002.53 672.16 L1004.03 670.75 L1005.53 669.43 L1007.03 668.26 L1008.52 667.28 L1010.02 666.53 L1011.52 666.03 L1013.02 665.81 L1014.52 665.88 L1016.02 666.22 L1017.51 666.84 L1019.01 667.7 L1020.51 668.77 L1022.01 670.02 L1023.51 671.38 L1025.01 672.82 L1026.51 674.27 L1028 675.68 L1029.5 677 L1031 678.16 L1032.5 679.14 L1034 679.89 L1035.5 680.38 L1037 680.59 L1038.49 680.52 L1039.99 680.17 L1041.49 679.54 L1042.99 678.68 L1044.49 677.6 L1045.99 676.35 L1047.48 674.99 L1048.98 673.55 L1050.48 672.1 L1051.98 670.69 L1053.48 669.38 L1054.98 668.21 L1056.48 667.24 L1057.97 666.5 L1059.47 666.02 L1060.97 665.81 L1062.47 665.88 L1063.97 666.24 L1065.47 666.87 L1066.97 667.74 L1068.46 668.82 L1069.96 670.07 L1071.46 671.44 L1072.96 672.88 L1074.46 674.33 L1075.96 675.74 L1077.46 677.05 L1078.95 678.21 L1080.45 679.18 L1081.95 679.91 L1083.45 680.39 L1084.95 680.59 L1086.45 680.51 L1087.94 680.15 L1089.44 679.51 L1090.94 678.64 L1092.44 677.55 L1093.94 676.3 L1095.44 674.93 L1096.94 673.49 L1098.43 672.04 L1099.93 670.63 L1101.43 669.33 L1102.93 668.17 L1104.43 667.21 L1105.93 666.47 L1107.43 666 L1108.92 665.81 L1110.42 665.89 L1111.92 666.26 L1113.42 666.9 L1114.92 667.78 L1116.42 668.87 L1117.92 670.13 L1119.41 671.5 L1120.91 672.94 L1122.41 674.39 L1123.91 675.8 L1125.41 677.1 L1126.91 678.25 L1128.4 679.21 L1129.9 679.94 L1131.4 680.41 L1132.9 680.6 L1134.4 680.5 L1135.9 680.12 L1137.4 679.48 L1138.89 678.6 L1140.39 677.5 L1141.89 676.24 L1143.39 674.87 L1144.89 673.43 L1146.39 671.98 L1147.89 670.58 L1149.38 669.27 L1150.88 668.13 L1152.38 667.17 L1153.88 666.45 L1155.38 665.99 L1156.88 665.8 L1158.37 665.9 L1159.87 666.29 L1161.37 666.93 L1162.87 667.82 L1164.37 668.92 L1165.87 670.18 L1167.37 671.56 L1168.86 673 L1170.36 674.45 L1171.86 675.85 L1173.36 677.15 L1174.86 678.3 L1176.36 679.25 L1177.86 679.96 L1179.35 680.42 L1180.85 680.6 L1182.35 680.49 L1183.85 680.1 L1185.35 679.45 L1186.85 678.55 L1188.35 677.45 L1189.84 676.19 L1191.34 674.81 L1192.84 673.37 L1194.34 671.92 L1195.84 670.52 L1197.34 669.22 L1198.83 668.08 L1200.33 667.14 L1201.83 666.42 L1203.33 665.97 L1204.83 665.8 L1206.33 665.91 L1207.83 666.31 L1209.32 666.97 L1210.82 667.87 L1212.32 668.97 L1213.82 670.24 L1215.32 671.62 L1216.82 673.06 L1218.32 674.51 L1219.81 675.91 L1221.31 677.2 L1222.81 678.34 L1224.31 679.28 L1225.81 679.99 L1227.31 680.43 L1228.81 680.6 L1230.3 680.48 L1231.8 680.08 L1233.3 679.42 L1234.8 678.51 L1236.3 677.4 L1237.8 676.13 L1239.29 674.75 L1240.79 673.31 L1242.29 671.86 L1243.79 670.46 L1245.29 669.17 L1246.79 668.04 L1248.29 667.1 L1249.78 666.4 L1251.28 665.96 L1252.78 665.8 L1254.28 665.93 L1255.78 666.33 L1257.28 667 L1258.78 667.91 L1260.27 669.02 L1261.77 670.29 L1263.27 671.68 L1264.77 673.12 L1266.27 674.57 L1267.77 675.97 L1269.26 677.25 L1270.76 678.38 L1272.26 679.32 L1273.76 680.01 L1275.26 680.45 L1276.76 680.6 L1278.26 680.47 L1279.75 680.06 L1281.25 679.38 L1282.75 678.47 L1284.25 677.35 L1285.75 676.08 L1287.25 674.69 L1288.75 673.25 L1290.24 671.8 L1291.74 670.41 L1293.24 669.12 L1294.74 667.99 L1296.24 667.07 L1297.74 666.38 L1299.24 665.95 L1300.73 665.8 L1302.23 665.94 L1303.73 666.35 L1305.23 667.03 L1306.73 667.95 L1308.23 669.07 L1309.72 670.35 L1311.22 671.74 L1312.72 673.18 L1314.22 674.63 L1315.72 676.02 L1317.22 677.3 L1318.72 678.43 L1320.21 679.35 L1321.71 680.04 L1323.21 680.46 L1324.71 680.6 C1326.21 680.6 1327 679 1327.2 675 C1327.4 668 1328 665.6 1332 665.6 H1386" fill="none" stroke="#111111" stroke-width="2.7" stroke-linecap="round" stroke-linejoin="round"/>
<rect x="79.3" y="661.7" width="8.2" height="8" fill="#9b9b9b"/>
<rect x="79.3" y="661.7" width="8.2" height="1.6" fill="#d6d6d6"/>
<rect x="79.3" y="668.42" width="8.2" height="1.28" fill="#c4c4c4"/>
<path d="M86.7 660 L108.7 660 C111 660 112.72 662.3 119 662.3 Q120.2 662.3 120.2 663.5 L120.2 667.9 Q120.2 669.1 119 669.1 C112.72 669.1 111 671.4 108.7 671.4 L86.7 671.4 Z" fill="#262626"/>
<rect x="87.2" y="663.08" width="21.5" height="5.24" fill="#333333"/>
<rect x="87.2" y="661.67" width="21.5" height="1" fill="#a2a2a2"/>
<rect x="87.2" y="668.73" width="21.5" height="1" fill="#a2a2a2"/>
<rect x="112.7" y="664.88" width="6" height="1.36" fill="#3a3a3a" opacity="0.6"/>
<text x="0" y="1.4" transform="translate(97.7,665.7) scale(-1,1)" font-family="Liberation Sans" font-weight="bold" font-size="3.88" fill="#eeeeee" text-anchor="middle" textLength="18.04" lengthAdjust="spacingAndGlyphs">AGVEE</text>
<rect x="1421.1" y="661.25" width="9.9" height="9.5" fill="#9b9b9b"/>
<rect x="1421.1" y="661.25" width="9.9" height="1.9" fill="#d6d6d6"/>
<rect x="1421.1" y="669.23" width="9.9" height="1.52" fill="#c4c4c4"/>
<path d="M1421.9 659.7 L1400 659.7 C1396.68 659.7 1394.19 662.75 1384.6 662.75 Q1383.4 662.75 1383.4 663.95 L1383.4 668.05 Q1383.4 669.25 1384.6 669.25 C1394.19 669.25 1396.68 672.3 1400 672.3 L1421.9 672.3 Z" fill="#262626"/>
<rect x="1400" y="663.1" width="21.4" height="5.8" fill="#333333"/>
<rect x="1400" y="661.56" width="21.4" height="1.07" fill="#a2a2a2"/>
<rect x="1400" y="669.37" width="21.4" height="1.07" fill="#a2a2a2"/>
<rect x="1384.9" y="665.22" width="11.1" height="1.3" fill="#3a3a3a" opacity="0.6"/>
<g transform="translate(1410.95,666) scale(0.58)" fill="#f6f6f6" stroke="#f6f6f6"><circle cx="-7.2" cy="0" r="2.7" stroke="none"/><path d="M-6 0 H9" stroke-width="1.5" fill="none"/><circle cx="9.3" cy="0" r="1.6" stroke="none"/><path d="M-3 0 C-1.5 -1.5 -0.5 -3.6 1.5 -3.6 H5" stroke-width="1.3" fill="none"/><circle cx="5.6" cy="-3.6" r="1.7" stroke="none"/><path d="M-4.5 0 C-3 1.5 -1.8 3.9 0.5 3.9 H2.5" stroke-width="1.3" fill="none"/><circle cx="3.4" cy="3.9" r="1.8" stroke="none"/></g>
</g>
<use href="#pc1" transform="translate(-2.7,641.5)"/>
</svg>
<div class="t" style="left:281.38px;top:67.55px;font-size:72px;color:#0f275d;font-weight:bold;transform:scaleX(0.9101);-webkit-text-stroke:0.6px #0f275d">Coiled</div>
<div class="t" style="left:497.08px;top:67.55px;font-size:72px;color:#0f275d;font-weight:bold;transform:scaleX(0.9099);-webkit-text-stroke:0.6px #0f275d">Cable</div>
<div class="t" style="left:691.23px;top:67.55px;font-size:72px;color:#0f275d;font-weight:bold;transform:scaleX(0.9275);-webkit-text-stroke:0.6px #0f275d">Length</div>
<div class="t" style="left:928.32px;top:67.55px;font-size:72px;color:#0f275d;font-weight:bold;transform:scaleX(0.9307);-webkit-text-stroke:0.6px #0f275d">Overview</div>
<div class="t" style="left:97.46px;top:226.09px;font-size:69px;color:#0b2354;font-weight:normal;transform:scaleX(0.9194);">3ft Detail</div>
<div class="t" style="left:98.18px;top:867.09px;font-size:69px;color:#0b2354;font-weight:normal;transform:scaleX(0.9133);">5ft Detail</div>
<div class="t" style="left:503.06px;top:341.22px;font-size:40.5px;color:#032420;font-weight:normal;transform:scaleX(0.9573);">Original Length:</div>
<div class="t" style="left:783.80px;top:341.22px;font-size:40.5px;color:#032420;font-weight:normal;transform:scaleX(0.9269);">0.36m (1.2ft)</div>
<div class="t" style="left:332.09px;top:529.86px;font-size:40.8px;color:#032420;font-weight:normal;transform:scaleX(0.9370);">Comfortable Stretch Range:</div>
<div class="t" style="left:813.75px;top:529.86px;font-size:40.8px;color:#032420;font-weight:normal;transform:scaleX(0.9482);">0.36m-0.9m(1.2ft-3ft)</div>
<div class="t" style="left:501.44px;top:706.60px;font-size:43px;color:#fffdf2;font-weight:normal;transform:scaleX(0.8886);-webkit-text-stroke:0.7px #fed032">Max Stretch Length:</div>
<div class="t" style="left:850.96px;top:706.60px;font-size:43px;color:#fffdf2;font-weight:normal;transform:scaleX(0.8847);-webkit-text-stroke:0.7px #fed032">1.2m (4ft)</div>
<div class="t" style="left:518.06px;top:982.72px;font-size:40.5px;color:#032420;font-weight:normal;transform:scaleX(0.9573);">Original Length:</div>
<div class="t" style="left:799.20px;top:982.72px;font-size:40.5px;color:#032420;font-weight:normal;transform:scaleX(0.9256);">0.5m (1.5ft)</div>
<div class="t" style="left:353.09px;top:1171.22px;font-size:40.5px;color:#032420;font-weight:normal;transform:scaleX(0.9419);">Comfortable Stretch Range:</div>
<div class="t" style="left:824.45px;top:1171.22px;font-size:40.5px;color:#032420;font-weight:normal;transform:scaleX(0.9546);">0.5m-1.5m(1.5ft-5ft)</div>
<div class="t" style="left:505.44px;top:1347.60px;font-size:43px;color:#fffdf2;font-weight:normal;transform:scaleX(0.8894);-webkit-text-stroke:0.7px #fed032">Max Stretch Length:</div>
<div class="t" style="left:855.97px;top:1347.60px;font-size:43px;color:#fffdf2;font-weight:normal;transform:scaleX(0.8802);-webkit-text-stroke:0.7px #fed032">1.8m (6ft)</div>
</body></html>
